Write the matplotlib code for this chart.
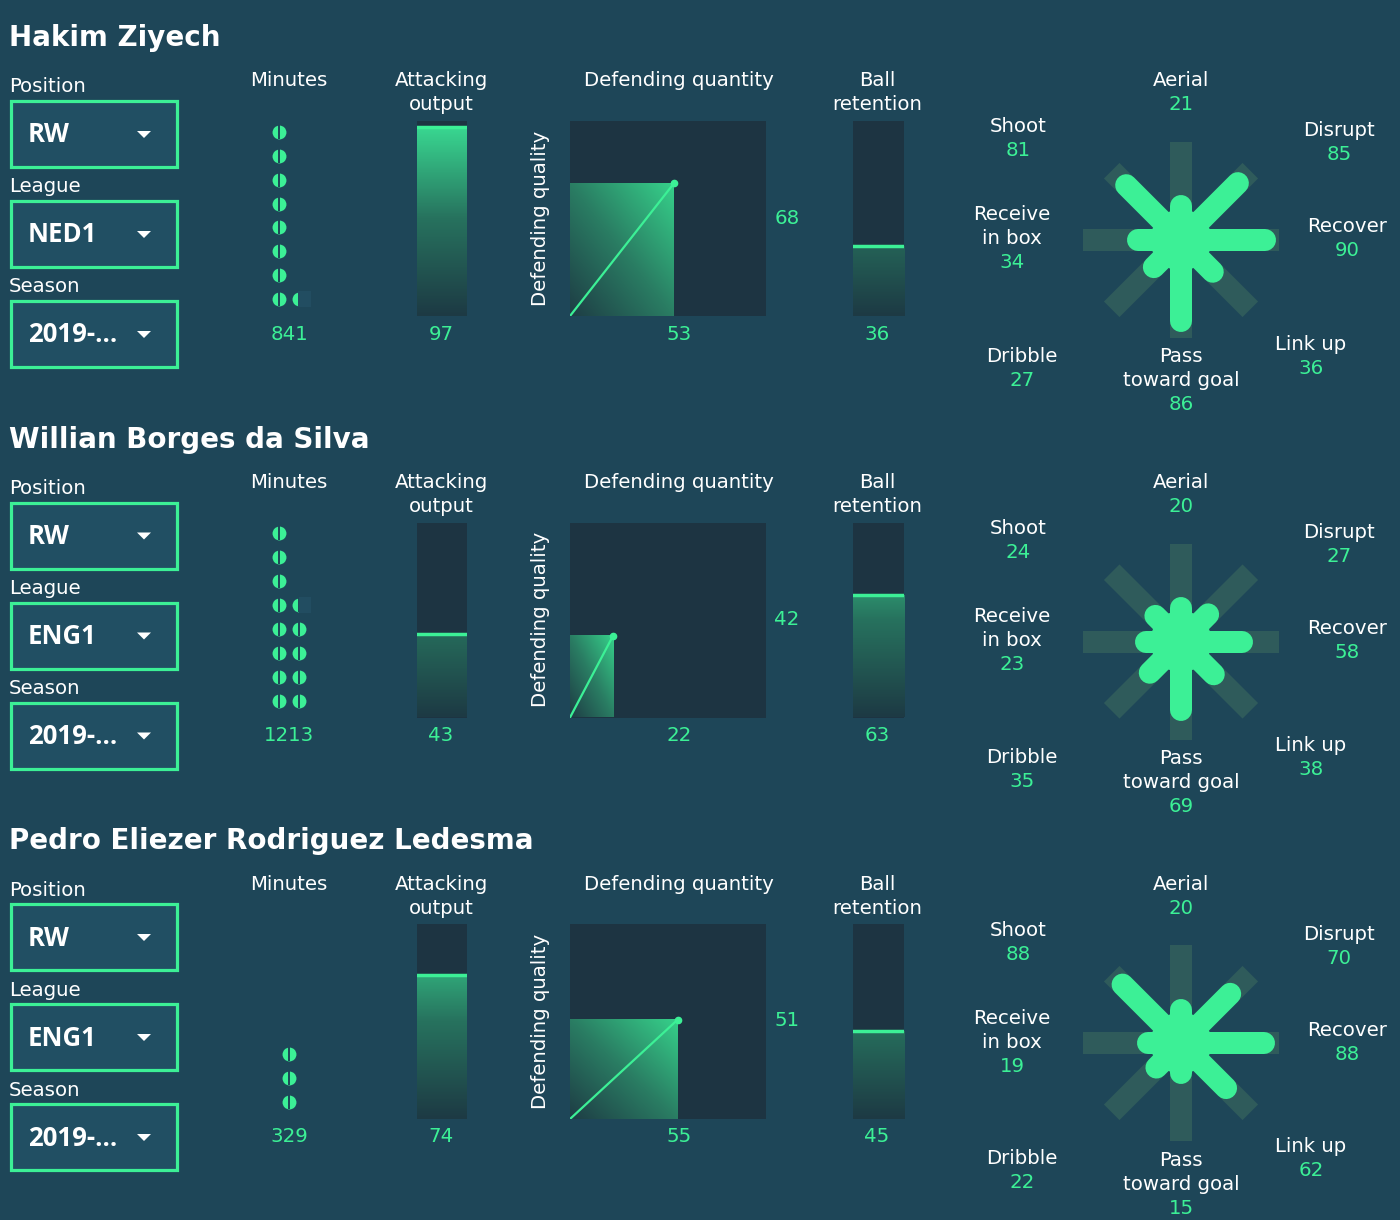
import numpy as np
import matplotlib.pyplot as plt
from matplotlib.patches import Rectangle, Circle, Polygon
from matplotlib.colors import LinearSegmentedColormap

# data
players = ['Hakim Ziyech', 'Willian Borges da Silva', 'Pedro Eliezer Rodriguez Ledesma']
positions = ['RW', 'RW', 'RW']
leagues = ['NED1', 'ENG1', 'ENG1']
seasons = ['2019-...', '2019-...', '2019-...']
minutes = [841, 1213, 329]
minute_dots = [8, 12, 3]
minute_partial = [0.45, 0.5, 0.0]
attacking = [97, 43, 74]
def_quantity = [53, 22, 55]
def_quality = [68, 42, 51]
ball_retention = [36, 63, 45]
radar_labels = ['Aerial', 'Disrupt', 'Recover', 'Link up', 'Pass\ntoward goal',
                'Dribble', 'Receive\nin box', 'Shoot']
radar_values = [
    [21, 85, 90, 36, 86, 27, 34, 81],
    [20, 27, 58, 38, 69, 35, 23, 24],
    [20, 70, 88, 62, 15, 22, 19, 88],
]

W, H = 1400, 1220
BG = '#1e4658'
PANEL = '#1d3442'
GREEN = '#3cf096'
SPOKE = '#2f5b5b'
BOXFILL = '#214f63'
MASK = '#224d61'
FONT = 'DejaVu Sans'

bar_cmap = LinearSegmentedColormap.from_list('bar', ['#1d3a44', '#27725e', '#3ade94'])
sq_cmap = LinearSegmentedColormap.from_list('sq', ['#1e3d45', '#2a7d63', '#36d08a'])

fig = plt.figure(figsize=(W / 100, H / 100), dpi=100, facecolor=BG)

# overlay axes in pixel coordinates for text and widgets
ui = fig.add_axes([0, 0, 1, 1], zorder=-1)
ui.set_xlim(0, W)
ui.set_ylim(H, 0)
ui.axis('off')


def rect(x0, y0, x1, y1):
    return [x0 / W, 1 - y1 / H, (x1 - x0) / W, (y1 - y0) / H]


def label(x, y, s, color='white', size=14.2, weight='normal', ha='center', step=24,
          family=FONT):
    for k, line in enumerate(s.split('\n')):
        ui.text(x, y + k * step, line, color=color, fontsize=size, fontweight=weight,
                ha=ha, va='center', family=family)


def plain(ax):
    for sp in ax.spines.values():
        sp.set_visible(False)
    ax.set_xticks([])
    ax.set_yticks([])


def dropdown(y, name, value):
    label(9, y, name, ha='left')
    y0 = y + 14
    ui.add_patch(Rectangle((11, y0), 166, 66, facecolor=BOXFILL, edgecolor=GREEN, lw=2.3))
    label(28, y0 + 34, value, ha='left', size=18.5, weight='bold', family='Open Sans')
    ui.add_patch(Polygon([(137, y0 + 30), (151, y0 + 30), (144, y0 + 37)], closed=True,
                         facecolor='white', edgecolor='none'))


def gradient_bar(ax, v):
    ax.set_facecolor(PANEL)
    grad = np.linspace(0, 1, 200).reshape(-1, 1)
    img = ax.imshow(grad, extent=[0, 1, 0, 100], origin='lower', aspect='auto',
                    cmap=bar_cmap, vmin=0, vmax=1)
    img.set_clip_path(Rectangle((0, 0), 1, v, transform=ax.transData))
    ax.axhline(v, color=GREEN, lw=2.5)
    ax.set_xlim(0, 1)
    ax.set_ylim(0, 100)
    plain(ax)


angles = np.deg2rad(90 - 45 * np.arange(8))
label_offsets = [(0, -159), (158, -109), (166, -13), (130, 104), (0, 117),
                 (-159, 116), (-169, -25), (-163, -113)]

for i in range(3):
    off = i * 401.5

    # title + selectors
    label(9, 38 + off, players[i], ha='left', size=20, weight='bold')
    dropdown(87 + off, 'Position', positions[i])
    dropdown(187 + off, 'League', leagues[i])
    dropdown(287 + off, 'Season', seasons[i])

    # minutes dots
    label(289, 81 + off, 'Minutes')
    n_total = minute_dots[i] + (1 if minute_partial[i] > 0 else 0)
    ncols = int(np.ceil(n_total / 8))
    axm = fig.add_axes(rect(249, 121 + off, 329, 316 + off))
    axm.set_facecolor('none')
    axm.set_xlim((ncols - 1) / 2 - 2, (ncols - 1) / 2 + 2)
    axm.set_ylim(-0.71, 7.46)
    plain(axm)
    k = np.arange(n_total)
    cols, rows = k // 8, k % 8
    axm.scatter(cols, rows, s=100, color=GREEN, linewidths=0, zorder=2)
    axm.scatter(cols, rows, s=110, marker='|', color=BG, linewidths=1.4, zorder=3)
    if minute_partial[i] > 0:
        c, r = cols[-1], rows[-1]
        x0 = c - 0.35 + minute_partial[i] * 0.7
        axm.add_patch(Rectangle((x0, r - 0.33), c + 0.6 - x0, 0.66, facecolor=MASK,
                                edgecolor='none', zorder=4))
    label(289, 334 + off, str(minutes[i]), color=GREEN)

    # attacking output
    label(441, 81 + off, 'Attacking\noutput')
    gradient_bar(fig.add_axes(rect(417, 121 + off, 467, 316 + off)), attacking[i])
    label(441, 334 + off, str(attacking[i]), color=GREEN)

    # defending quantity / quality
    label(679, 81 + off, 'Defending quantity')
    ui.text(541, 218 + off, 'Defending quality', color='white', fontsize=14.2, rotation=90,
            ha='center', va='center', family=FONT)
    axd = fig.add_axes(rect(570, 121 + off, 766, 316 + off))
    axd.set_facecolor(PANEL)
    q, ql = def_quantity[i], def_quality[i]
    gx, gy = np.meshgrid(np.linspace(0, 1, 100), np.linspace(0, 1, 100))
    axd.imshow((gx + gy) / 2, extent=[0, q, 0, ql], origin='lower', aspect='auto',
               cmap=sq_cmap, vmin=0, vmax=1)
    axd.plot([0, q], [0, ql], color=GREEN, lw=1.6)
    axd.plot([q], [ql], 'o', color=GREEN, ms=4.5)
    axd.set_xlim(0, 100)
    axd.set_ylim(0, 100)
    plain(axd)
    label(679, 334 + off, str(q), color=GREEN)
    label(787, 218 + off, str(ql), color=GREEN)

    # ball retention
    label(877, 81 + off, 'Ball\nretention')
    gradient_bar(fig.add_axes(rect(853, 121 + off, 904, 316 + off)), ball_retention[i])
    label(877, 334 + off, str(ball_retention[i]), color=GREEN)

    # radar star
    axr = fig.add_axes(rect(1061, 120 + off, 1301, 360 + off))
    axr.set_facecolor('none')
    axr.set_xlim(-1.2, 1.2)
    axr.set_ylim(-1.2, 1.2)
    plain(axr)
    lw = 22 * 0.72
    for a in angles:
        axr.plot([0, 0.98 * np.cos(a)], [0, 0.98 * np.sin(a)], color=SPOKE,
                 lw=lw, solid_capstyle='butt')
    for a, v in zip(angles, radar_values[i]):
        L = 0.188 + 0.00725 * v
        axr.plot([0, L * np.cos(a)], [0, L * np.sin(a)], color=GREEN, lw=lw,
                 solid_capstyle='round', zorder=3)
    axr.add_patch(Circle((0, 0), 0.3, color=GREEN, zorder=3))

    for (dx, dy), name, v in zip(label_offsets, radar_labels, radar_values[i]):
        label(1181 + dx, 240 + off + dy, name)
        nl = name.count('\n')
        label(1181 + dx, 240 + off + dy + 24 * (nl + 1), str(v), color=GREEN)

fig.savefig('out.png', dpi=100, facecolor=BG)
